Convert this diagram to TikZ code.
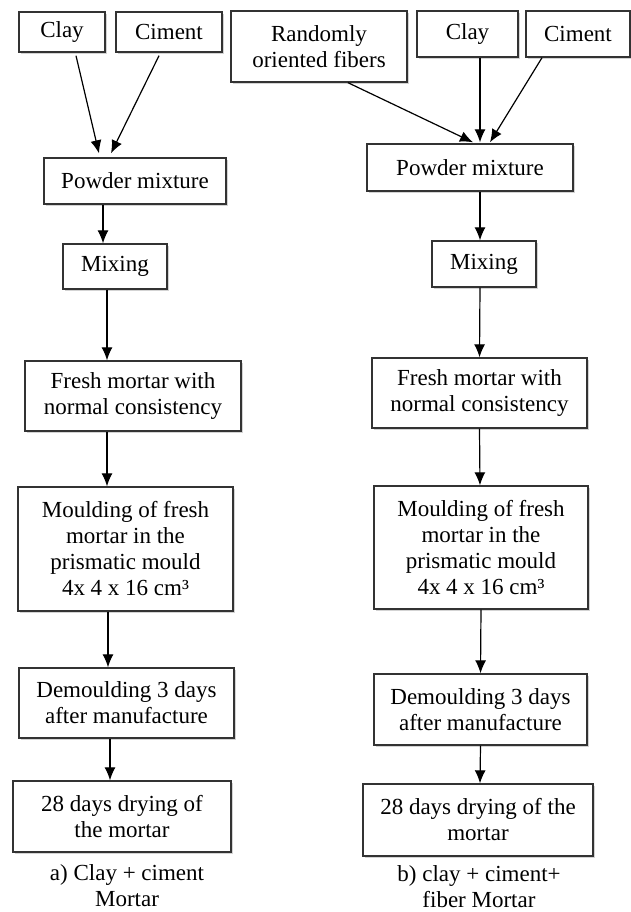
\documentclass[tikz,border=0pt]{standalone}
\usepackage{fontspec}
\setmainfont{Liberation Serif}
\usetikzlibrary{arrows.meta,shadows}

\tikzset{
  flowbox/.style={draw=black!80, line width=0.7pt, fill=white, align=center, inner sep=0pt,
    drop shadow={shadow xshift=0.9pt, shadow yshift=-0.9pt, opacity=0.35}},
  flowarrow/.style={-{Latex[length=6.5pt,width=5.5pt]}, line width=0.6pt},
}

\begin{document}
\begin{tikzpicture}[x=0.5pt, y=-0.5pt, font=\fontsize{11.5}{13}\selectfont]
\useasboundingbox (0,0) rectangle (631,912);
% a) clay + ciment mortar
\node[flowbox, minimum width=43pt, minimum height=20pt] (clayA) at (62,32) {Clay};
\node[flowbox, minimum width=53pt, minimum height=20pt] (cimentA) at (169,32) {Ciment};
\node[flowbox, minimum width=91pt, minimum height=23pt] (powderA) at (135,181) {Powder mixture};
\node[flowbox, minimum width=52pt, minimum height=22.5pt] (mixA) at (115,266.5) {Mixing};
\node[flowbox, minimum width=108pt, minimum height=35pt] (freshA) at (133,396) {Fresh mortar with\\normal consistency};
\node[flowbox, minimum width=107.5pt, minimum height=62pt] (mouldA) at (125.5,549) {Moulding of fresh\\mortar in the\\prismatic mould\\4x 4 x 16 cm³};
\node[flowbox, minimum width=107.5pt, minimum height=35pt] (demouldA) at (126.5,703) {Demoulding 3 days\\after manufacture};
\node[flowbox, minimum width=109pt, minimum height=35.5pt] (dryA) at (122,816.5) {28 days drying of\\the mortar};
\node[align=center] (capA) at (127,886) {a) Clay + ciment\\Mortar};

\draw[flowarrow] ([xshift=7pt,yshift=-1.5pt]clayA.south) -- ([xshift=-18pt,yshift=2pt]powderA.north);
\draw[flowarrow] ([xshift=-5pt,yshift=-1.5pt]cimentA.south) -- ([xshift=-12pt,yshift=2pt]powderA.north);
\draw[flowarrow] ([xshift=-16pt]powderA.south) -- ([xshift=-6pt]mixA.north);
\draw[flowarrow] ([xshift=-4pt]mixA.south) -- ([xshift=-13pt]freshA.north);
\draw[flowarrow] ([xshift=-13pt]freshA.south) -- ([xshift=-9.25pt]mouldA.north);
\draw[flowarrow] ([xshift=-8.75pt]mouldA.south) -- ([xshift=-9.25pt]demouldA.north);
\draw[flowarrow] ([xshift=-8.25pt]demouldA.south) -- ([xshift=-6pt]dryA.north);

% b) clay + ciment + fiber mortar
\node[flowbox, minimum width=88pt, minimum height=35.5pt] (fibR) at (319,46.5) {Randomly\\oriented fibers};
\node[flowbox, minimum width=50.5pt, minimum height=23pt] (clayR) at (467.5,34) {Clay};
\node[flowbox, minimum width=52pt, minimum height=23pt] (cimentR) at (578,34) {Ciment};
\node[flowbox, minimum width=103pt, minimum height=23.5pt] (powderR) at (470,167.5) {Powder mixture};
\node[flowbox, minimum width=52pt, minimum height=23pt] (mixR) at (484,264) {Mixing};
\node[flowbox, minimum width=107.5pt, minimum height=35pt] (freshR) at (479.5,393) {Fresh mortar with\\normal consistency};
\node[flowbox, minimum width=107pt, minimum height=61.5pt] (mouldR) at (481,547.5) {Moulding of fresh\\mortar in the\\prismatic mould\\4x 4 x 16 cm³};
\node[flowbox, minimum width=106.5pt, minimum height=35.5pt] (demouldR) at (480.5,709.5) {Demoulding 3 days\\after manufacture};
\node[flowbox, minimum width=115pt, minimum height=36pt] (dryR) at (478,820) {28 days drying of the\\mortar};
\node[align=center] (capR) at (479,887) {b) clay + ciment+\\fiber Mortar};

\draw[flowarrow] ([xshift=14.5pt]fibR.south) -- ([xshift=1.5pt,yshift=0.5pt]powderR.north);
\draw[flowarrow] ([xshift=6.25pt]clayR.south) -- ([xshift=5pt,yshift=0.5pt]powderR.north);
\draw[flowarrow] ([xshift=-18pt]cimentR.south) -- ([xshift=10pt,yshift=0.5pt]powderR.north);
\draw[flowarrow] ([xshift=5pt]powderR.south) -- ([xshift=-2pt]mixR.north);
\draw[flowarrow] ([xshift=-2pt]mixR.south) -- (freshR.north);
\draw[flowarrow] (freshR.south) -- ([xshift=-0.5pt]mouldR.north);
\draw[flowarrow] (mouldR.south) -- (demouldR.north);
\draw[flowarrow] (demouldR.south) -- ([xshift=1pt]dryR.north);
\end{tikzpicture}
\end{document}
